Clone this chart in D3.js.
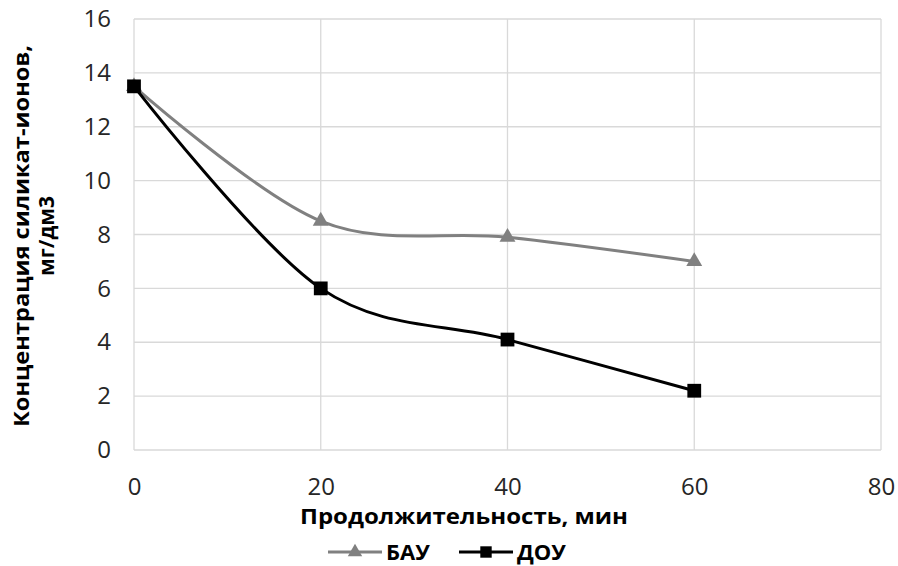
<!DOCTYPE html>
<html lang="ru">
<head>
<meta charset="utf-8">
<title>Концентрация силикат-ионов</title>
<style>
  body { margin: 0; background: #fff; }
  svg text { font-family: "Open Sans", sans-serif; fill: #000; }
  .grid line { stroke: #d9d9d9; stroke-width: 1.3px; }
</style>
</head>
<body>
<script src="https://cdn.jsdelivr.net/npm/d3@7"></script>
<script>
// data
const minutes = [0, 20, 40, 60];
const bau = [13.5, 8.5, 7.9, 7.0];
const dou = [13.5, 6.0, 4.1, 2.2];
const seriesNames = ["БАУ", "ДОУ"];
const xTicks = [0, 20, 40, 60, 80];
const yTicks = [0, 2, 4, 6, 8, 10, 12, 14, 16];

const width = 898, height = 566;
const plot = {left: 134, right: 881, top: 19, bottom: 450};

const svg = d3.select("body").append("svg")
    .attr("width", width).attr("height", height);

const x = d3.scaleLinear().domain([0, 80]).range([plot.left, plot.right]);
const y = d3.scaleLinear().domain([0, 16]).range([plot.bottom, plot.top]);

// gridlines
const grid = svg.append("g").attr("class", "grid");
grid.selectAll("line.h").data(yTicks).join("line")
    .attr("x1", plot.left).attr("x2", plot.right)
    .attr("y1", d => y(d)).attr("y2", d => y(d));
grid.selectAll("line.v").data(xTicks).join("line")
    .attr("x1", d => x(d)).attr("x2", d => x(d))
    .attr("y1", plot.top).attr("y2", plot.bottom);

// axes (labels only, Excel-style)
const xAxis = svg.append("g")
    .attr("transform", `translate(0,${plot.bottom})`)
    .call(d3.axisBottom(x).tickValues(xTicks).tickSize(0).tickPadding(28));
xAxis.select(".domain").remove();

const yAxis = svg.append("g")
    .attr("transform", `translate(${plot.left},0)`)
    .call(d3.axisLeft(y).tickValues(yTicks).tickSize(0).tickPadding(23));
yAxis.select(".domain").remove();

svg.selectAll(".tick text")
    .style("font-size", "24px")
    .style("fill", "#262626");

// axis titles
svg.append("text")
    .attr("x", 464).attr("y", 524)
    .attr("text-anchor", "middle")
    .style("font-size", "22px").style("font-weight", "bold")
    .attr("textLength", 328).attr("lengthAdjust", "spacingAndGlyphs")
    .text("Продолжительность, мин");

const yTitle = svg.append("text")
    .attr("transform", "translate(29,236) rotate(-90)")
    .attr("text-anchor", "middle")
    .style("font-size", "21px").style("font-weight", "bold");
yTitle.append("tspan").attr("x", 0).attr("dy", 0)
    .attr("textLength", 382).attr("lengthAdjust", "spacingAndGlyphs")
    .text("Концентрация силикат-ионов,");
yTitle.append("tspan").attr("x", 0).attr("dy", 25).text("мг/дм3");

// lines
const line = d3.line()
    .x((d, i) => x(minutes[i]))
    .y(d => y(d))
    .curve(d3.curveCatmullRom.alpha(0));

const colors = ["#808080", "#000000"];
const all = [bau, dou];

all.forEach((vals, k) => {
  svg.append("path")
      .datum(vals)
      .attr("fill", "none")
      .attr("stroke", colors[k])
      .attr("stroke-width", 3)
      .attr("d", line);
});

// markers
const tri = d3.symbol().type(d3.symbolTriangle).size(110);
const sq = d3.symbol().type(d3.symbolSquare).size(190);

svg.append("g").selectAll("path").data(bau).join("path")
    .attr("transform", (d, i) => `translate(${x(minutes[i])},${y(d)})`)
    .attr("d", tri).attr("fill", colors[0]);

svg.append("g").selectAll("path").data(dou).join("path")
    .attr("transform", (d, i) => `translate(${x(minutes[i])},${y(d)})`)
    .attr("d", sq).attr("fill", colors[1]);

// legend
const legY = 552;
const leg = [
  {x0: 328, name: seriesNames[0], sym: d3.symbol().type(d3.symbolTriangle).size(90), color: colors[0]},
  {x0: 459, name: seriesNames[1], sym: d3.symbol().type(d3.symbolSquare).size(130), color: colors[1]}
];
leg.forEach(l => {
  svg.append("line")
      .attr("x1", l.x0).attr("x2", l.x0 + 54)
      .attr("y1", legY).attr("y2", legY)
      .attr("stroke", l.color).attr("stroke-width", 3);
  svg.append("path")
      .attr("transform", `translate(${l.x0 + 27},${legY})`)
      .attr("d", l.sym())
      .attr("fill", l.color);
  svg.append("text")
      .attr("x", l.x0 + 58).attr("y", legY + 8)
      .style("font-size", "22px").style("font-weight", "bold")
      .text(l.name);
});
</script>
</body>
</html>
